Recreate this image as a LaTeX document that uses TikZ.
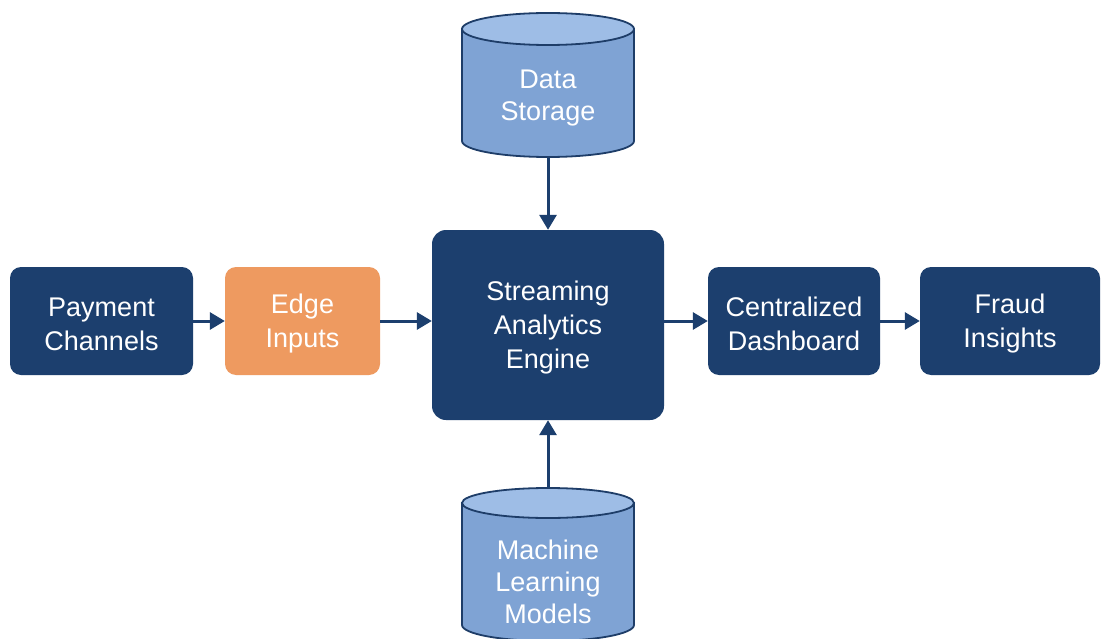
\documentclass[tikz,border=0pt]{standalone}
\usepackage{fontspec}
\setmainfont{Liberation Sans}
\usetikzlibrary{arrows.meta}
\definecolor{navy}{HTML}{1C3F6E}
\definecolor{orangebox}{HTML}{EE9A60}
\definecolor{cylbody}{HTML}{7FA3D4}
\definecolor{cyltop}{HTML}{9EBDE6}
\definecolor{cyledge}{HTML}{1E3D68}
\tikzset{
  box/.style={rounded corners=11pt, fill=navy, text=white, align=center,
    font=\fontsize{27}{34}\selectfont, inner sep=0pt},
  edgebox/.style={box, fill=orangebox},
  boxtext/.style={text=white, align=center, font=\fontsize{27}{34}\selectfont, inner sep=0pt},
  conn/.style={draw=navy, line width=3pt, -{Triangle[width=17pt,length=15pt]}},
  cyltext/.style={text=white, align=center, font=\fontsize{27}{32}\selectfont},
  anchorbox/.style={inner sep=0pt, draw=none}
}
\begin{document}
\begin{tikzpicture}[x=1pt,y=-1pt]
\useasboundingbox (0,0) rectangle (1102,639);
\clip (0,0) rectangle (1102,639);
\fill[white] (0,0) rectangle (1102,639);

% boxes
\node[box, minimum width=183pt, minimum height=108pt] (pc) at (101.5,321) {};
\node[boxtext] (pct) at (101.5,324) {Payment\\Channels};
\node[edgebox, minimum width=155pt, minimum height=108pt] (ei) at (302.5,321) {};
\node[boxtext] (eit) at (302.5,324) {Edge\\Inputs};
\node[box, rounded corners=14pt, minimum width=232pt, minimum height=190pt] (sae) at (548,325) {};
\node[boxtext] (saet) at (548,328) {Streaming\\Analytics\\Engine};
\node[box, minimum width=172pt, minimum height=108pt] (cd) at (794,321) {};
\node[boxtext] (cdt) at (794,324) {Centralized\\Dashboard};
\node[box, minimum width=180pt, minimum height=108pt] (fi) at (1010,321) {};
\node[boxtext] (fit) at (1010,324) {Fraud\\Insights};

% Data Storage cylinder
\begin{scope}[line width=1.8pt]
  \path[fill=cylbody, draw=cyledge] (462,29) -- (462,141) arc[start angle=180, end angle=360, x radius=86, y radius=-16] -- (634,29) -- cycle;
  \path[fill=cyltop, draw=cyledge] (548,29) ellipse[x radius=86, y radius=16];
\end{scope}
\node[anchorbox, minimum width=172pt, minimum height=144pt] (ds) at (548,85) {};
\node[cyltext] (dst) at (548,98) {Data\\Storage};

% Machine Learning cylinder
\begin{scope}[line width=1.8pt]
  \path[fill=cylbody, draw=cyledge] (462,503) -- (462,625) arc[start angle=180, end angle=360, x radius=86, y radius=-16] -- (634,503) -- cycle;
  \path[fill=cyltop, draw=cyledge] (548,503) ellipse[x radius=86, y radius=15];
\end{scope}
\node[anchorbox, minimum width=172pt, minimum height=150pt] (ml) at (548,563) {};
\node[cyltext] (mlt) at (548,582) {Machine\\Learning\\Models};

% connectors
\draw[conn] (pc.east) -- (ei.west);
\draw[conn] (ei.east) -- (sae.west |- ei.east);
\draw[conn] (sae.east |- cd.west) -- (cd.west);
\draw[conn] (cd.east) -- (fi.west);
\draw[conn] (ds.south) -- (sae.north);
\draw[conn] (ml.north) -- (sae.south);
\end{tikzpicture}
\end{document}
